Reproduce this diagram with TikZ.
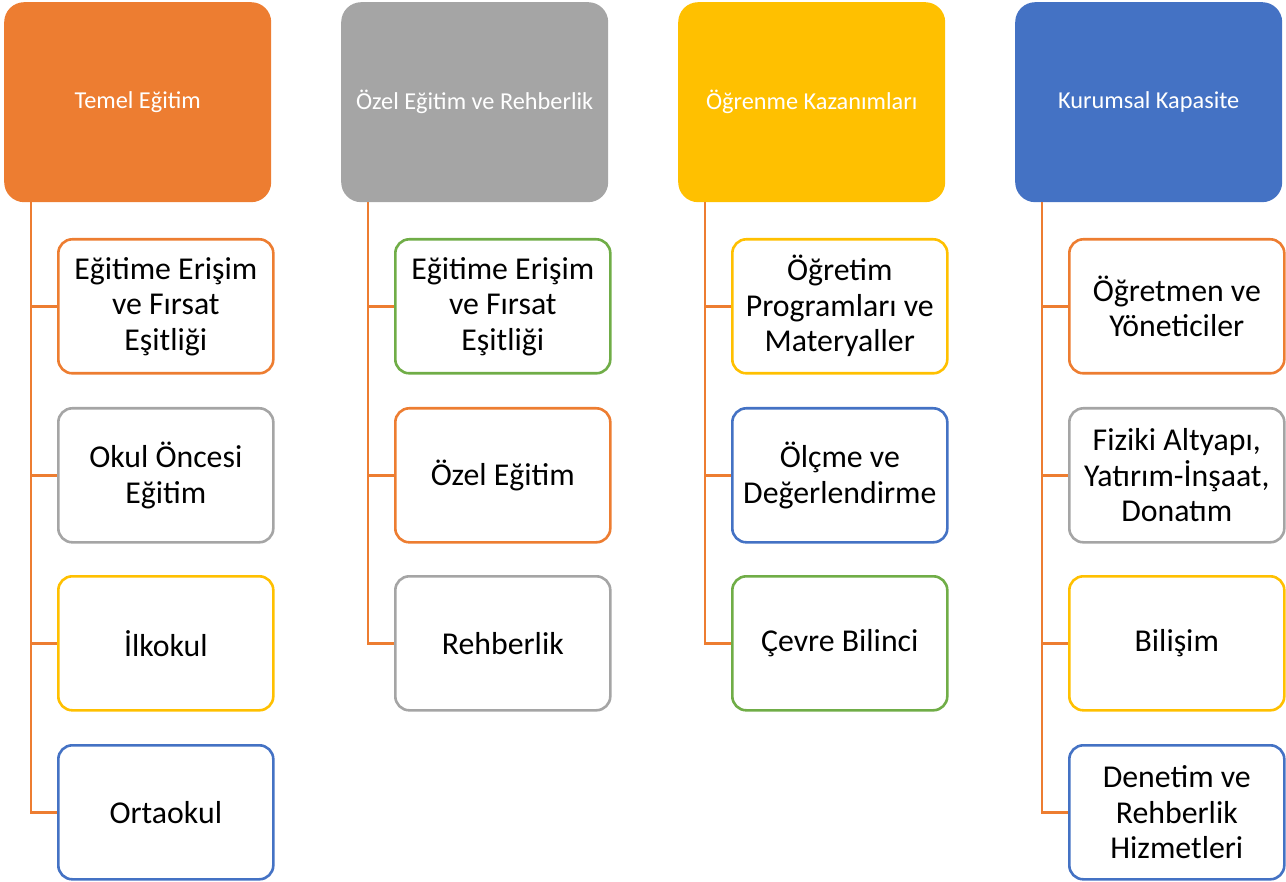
\documentclass[tikz,border=0pt]{standalone}
\usepackage{fontspec}
\setmainfont{Carlito}
\definecolor{cor}{HTML}{ED7D31}
\definecolor{cgr}{HTML}{A5A5A5}
\definecolor{cgo}{HTML}{FFC000}
\definecolor{cbl}{HTML}{4472C4}
\definecolor{cgn}{HTML}{70AD47}
\tikzset{
  head/.style={rectangle, rounded corners=20pt, minimum width=267pt, minimum height=200pt, inner sep=0pt, anchor=north west, text=white, font=\fontsize{24.3}{28}\selectfont, align=center},
  child/.style={rectangle, rounded corners=14pt, draw=#1, line width=2.6pt, fill=white, minimum width=215pt, minimum height=134pt, inner sep=0pt, anchor=north west, text=black, font=\fontsize{31.8}{35.5}\selectfont, align=center},
  conn/.style={draw=cor, line width=2.8pt},
}
\begin{document}
\begin{tikzpicture}[x=1pt,y=-1pt]
\useasboundingbox (0,0) rectangle (1286,882);
% headers
\node[head, fill=cor] (h1) at (4,2) {Temel Eğitim};
\node[head, fill=cgr] (h2) at (341,2) {Özel Eğitim ve Rehberlik};
\node[head, fill=cgo] (h3) at (678,2) {Öğrenme Kazanımları};
\node[head, fill=cbl] (h4) at (1015,2) {Kurumsal Kapasite};
% column 1
\node[child=cor] (c11) at (57,238) {Eğitime Erişim\\ve Fırsat\\Eşitliği};
\node[child=cgr] (c12) at (57,407) {Okul Öncesi\\Eğitim};
\node[child=cgo] (c13) at (57,575) {İlkokul};
\node[child=cbl] (c14) at (57,744) {Ortaokul};
% column 2
\node[child=cgn] (c21) at (394,238) {Eğitime Erişim\\ve Fırsat\\Eşitliği};
\node[child=cor] (c22) at (394,407) {Özel Eğitim};
\node[child=cgr] (c23) at (394,575) {Rehberlik};
% column 3
\node[child=cgo] (c31) at (731,238) {Öğretim\\Programları ve\\Materyaller};
\node[child=cbl] (c32) at (731,407) {Ölçme ve\\Değerlendirme};
\node[child=cgn] (c33) at (731,575) {Çevre Bilinci};
% column 4
\node[child=cor] (c41) at (1068,238) {Öğretmen ve\\Yöneticiler};
\node[child=cgr] (c42) at (1068,407) {Fiziki Altyapı,\\Yatırım-İnşaat,\\Donatım};
\node[child=cgo] (c43) at (1068,575) {Bilişim};
\node[child=cbl] (c44) at (1068,744) {Denetim ve\\Rehberlik\\Hizmetleri};
% connectors
\foreach \k in {1,2,3,4} \draw[conn] ([xshift=27pt]h1.south west) |- (c1\k.west);
\foreach \k in {1,2,3} \draw[conn] ([xshift=27pt]h2.south west) |- (c2\k.west);
\foreach \k in {1,2,3} \draw[conn] ([xshift=27pt]h3.south west) |- (c3\k.west);
\foreach \k in {1,2,3,4} \draw[conn] ([xshift=27pt]h4.south west) |- (c4\k.west);
\end{tikzpicture}
\end{document}
